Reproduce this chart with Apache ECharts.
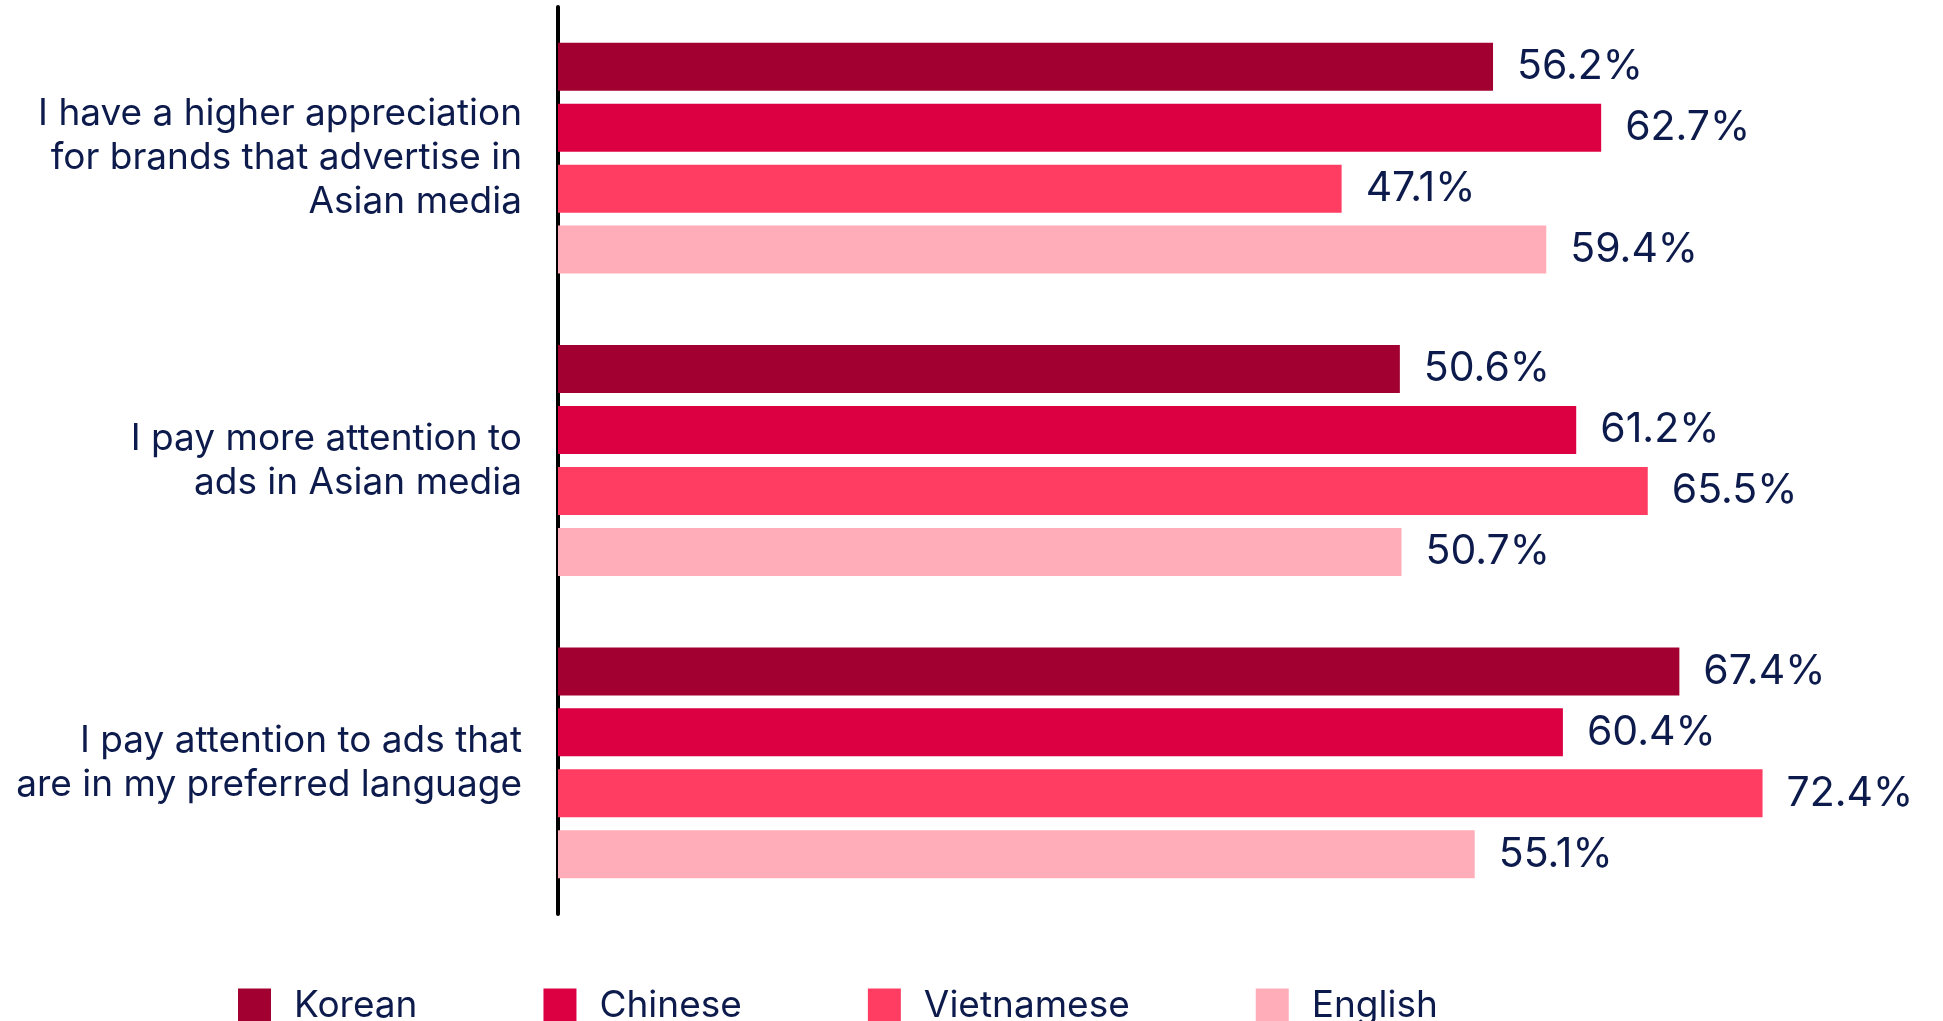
<!DOCTYPE html>
<html>
<head>
<meta charset="utf-8">
<script src="https://cdn.jsdelivr.net/npm/echarts@6/dist/echarts.min.js"></script>
<style>
  html, body { margin: 0; padding: 0; background: #fff; }
  #main { width: 1943px; height: 1021px; }
</style>
</head>
<body>
<div id="main"></div>
<script>
// categories (top to bottom)
var categories = [
    'I have a higher appreciation\nfor brands that advertise in\nAsian media',
    'I pay more attention to\nads in Asian media',
    'I pay attention to ads that\nare in my preferred language'
]
var seriesNames = ['Korean', 'Chinese', 'Vietnamese', 'English']
var korean = [56.2, 50.6, 67.4]
var chinese = [62.7, 61.2, 60.4]
var vietnamese = [47.1, 65.5, 72.4]
var english = [59.4, 50.7, 55.1]
var colors = ['#A20030', '#DC0043', '#FF3D63', '#FFADB9']

var textColor = '#0d1b4c'
var font = 'Inter, "Noto Sans", sans-serif'

function makeSeries (name, data, i) {
    return {
        name: name,
        type: 'bar',
        data: data,
        barWidth: 48,
        barGap: '27%',
        itemStyle: { color: colors[i] },
        label: {
            show: true,
            position: 'right',
            distance: 24,
            formatter: '{c}%',
            color: textColor,
            fontFamily: font,
            fontSize: 41
        },
        emphasis: { disabled: true }
    }
}

var option = {
    backgroundColor: '#ffffff',
    animation: false,
    color: colors,
    grid: {
        left: 558,
        right: 54,
        top: 7,
        bottom: 107
    },
    legend: {
        left: 233,
        top: 982,
        itemWidth: 33,
        itemHeight: 34,
        itemGap: 126,
        icon: 'rect',
        textStyle: {
            color: textColor,
            fontFamily: font,
            fontSize: 37,
            padding: [0, 0, 0, 18]
        },
        data: seriesNames
    },
    xAxis: {
        type: 'value',
        min: 0,
        max: 80,
        show: false
    },
    yAxis: {
        type: 'category',
        data: categories,
        inverse: true,
        axisTick: { show: false },
        axisLine: {
            show: true,
            lineStyle: { color: '#000', width: 4 }
        },
        axisLabel: {
            margin: 36,
            color: textColor,
            fontFamily: font,
            fontSize: 37,
            lineHeight: 44,
            align: 'right'
        }
    },
    series: [
        makeSeries(seriesNames[0], korean, 0),
        makeSeries(seriesNames[1], chinese, 1),
        makeSeries(seriesNames[2], vietnamese, 2),
        makeSeries(seriesNames[3], english, 3)
    ]
}

var myChart = echarts.init(document.getElementById('main'))
myChart.setOption(option)
</script>
</body>
</html>
